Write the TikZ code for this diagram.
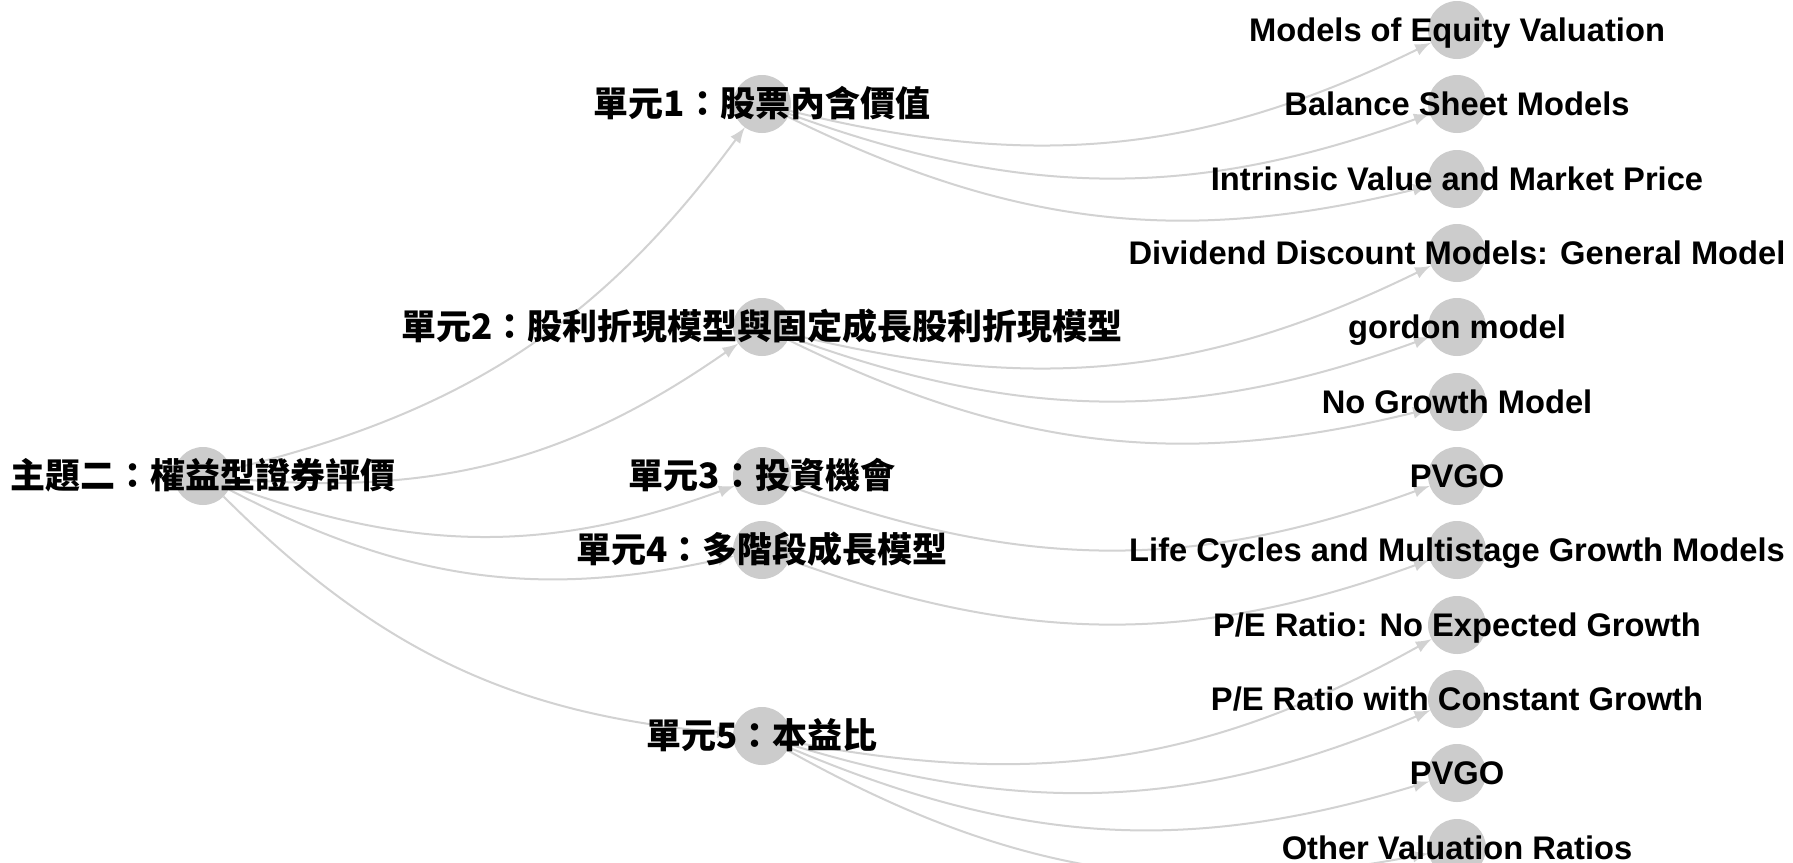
\documentclass[tikz,border=0pt]{standalone}
\usepackage{fontspec}
\setmainfont{Liberation Sans}
\newfontfamily\cjkfont{Noto Sans CJK TC}
\usetikzlibrary{arrows}
\tikzset{%
    dot/.style={shape=circle,fill=gray!40,draw=none,minimum size=0.58cm,inner sep=0pt,outer sep=0pt},
    zh/.style={anchor=base,yshift=-3.5pt,inner sep=0pt,font=\fontsize{9.96pt}{12pt}\cjkfont\bfseries},
    en/.style={anchor=base,yshift=-3.3pt,inner sep=0pt,font=\fontsize{9.3pt}{11pt}\bfseries},
    link/.style={->,draw=gray!35,line width=0.02cm,bend right=20},
}
\begin{document}
\begin{tikzpicture}[>=latex]
        \useasboundingbox[fill=white] (0,0) rectangle (17.93,8.62);
        % circles
        \node[dot] (root) at (2.03,3.86) {};
        \node[dot] (u1) at (7.62,7.58) {};
        \node[dot] (u2) at (7.62,5.35) {};
        \node[dot] (u3) at (7.62,3.86) {};
        \node[dot] (u4) at (7.62,3.12) {};
        \node[dot] (u5) at (7.62,1.26) {};
        \node[dot] (l1) at (14.57,8.32) {};
        \node[dot] (l2) at (14.57,7.58) {};
        \node[dot] (l3) at (14.57,6.83) {};
        \node[dot] (l4) at (14.57,6.09) {};
        \node[dot] (l5) at (14.57,5.35) {};
        \node[dot] (l6) at (14.57,4.60) {};
        \node[dot] (l7) at (14.57,3.86) {};
        \node[dot] (l8) at (14.57,3.12) {};
        \node[dot] (l9) at (14.57,2.37) {};
        \node[dot] (l10) at (14.57,1.63) {};
        \node[dot] (l11) at (14.57,0.89) {};
        \node[dot] (l12) at (14.57,0.14) {};

        % links
        \draw[link] (root) to (u1);
        \draw[link] (root) to (u2);
        \draw[link] (root) to (u3);
        \draw[link] (root) to (u4);
        \draw[link] (root) to (u5);
        \draw[link] (u1) to (l1);
        \draw[link] (u1) to (l2);
        \draw[link] (u1) to (l3);
        \draw[link] (u2) to (l4);
        \draw[link] (u2) to (l5);
        \draw[link] (u2) to (l6);
        \draw[link] (u3) to (l7);
        \draw[link] (u4) to (l8);
        \draw[link] (u5) to (l9);
        \draw[link] (u5) to (l10);
        \draw[link] (u5) to (l11);
        \draw[link] (u5) to (l12);

        % labels
        \node[zh] (root-t) at (root) {主題二：權益型證券評價};
        \node[zh] (u1-t) at (u1) {單元1：股票內含價值};
        \node[zh] (u2-t) at (u2) {單元2：股利折現模型與固定成長股利折現模型};
        \node[zh] (u3-t) at (u3) {單元3：投資機會};
        \node[zh] (u4-t) at (u4) {單元4：多階段成長模型};
        \node[zh] (u5-t) at (u5) {單元5：本益比};
        \node[en] (l1-t) at (l1) {Models of Equity Valuation};
        \node[en] (l2-t) at (l2) {Balance Sheet Models};
        \node[en] (l3-t) at (l3) {Intrinsic Value and Market Price};
        \node[en] (l4-t) at (l4) {Dividend Discount Models: General Model};
        \node[en] (l5-t) at (l5) {gordon model};
        \node[en] (l6-t) at (l6) {No Growth Model};
        \node[en] (l7-t) at (l7) {PVGO};
        \node[en] (l8-t) at (l8) {Life Cycles and Multistage Growth Models};
        \node[en] (l9-t) at (l9) {P/E Ratio: No Expected Growth};
        \node[en] (l10-t) at (l10) {P/E Ratio with Constant Growth};
        \node[en] (l11-t) at (l11) {PVGO};
        \node[en] (l12-t) at (l12) {Other Valuation Ratios};
    \end{tikzpicture}
\end{document}
